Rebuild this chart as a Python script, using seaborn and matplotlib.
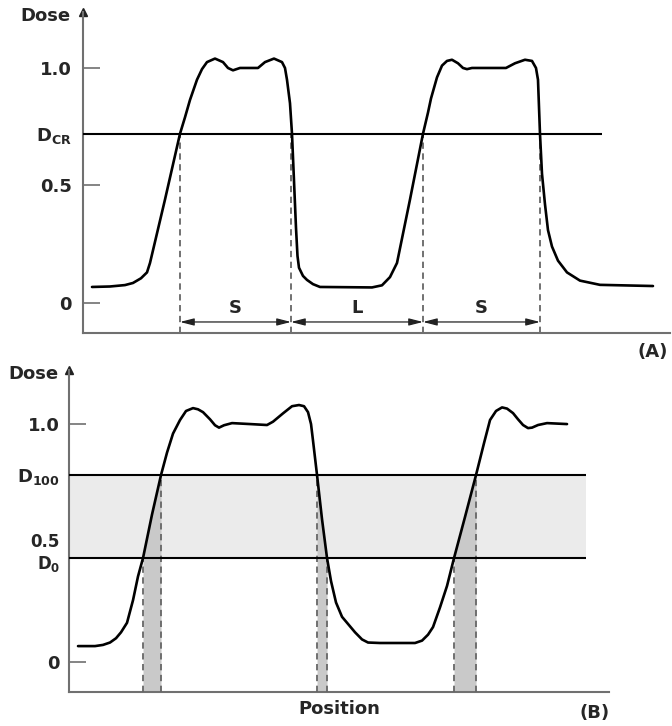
import matplotlib
matplotlib.use("Agg")
import matplotlib.pyplot as plt
import matplotlib.transforms as mtransforms
import seaborn as sns
import numpy as np

# ---- data (position in arbitrary units, dose normalised) ----
pos_a = [0.9, 2.7, 4.2, 5.0, 5.8, 6.4, 6.7, 8.2, 9.7, 10.2, 10.7, 11.4, 11.9, 12.4, 13.2,
         14.0, 14.5, 15.0, 15.7, 17.5, 18.2, 19.1, 19.9, 20.2, 20.4, 20.7, 20.9,
         21.1, 21.3, 21.45, 21.6, 22.0, 22.4, 23.0, 23.7, 28.9, 29.9, 30.7, 31.4,
         32.7, 34.0, 34.5, 34.8, 35.4, 35.9, 36.4, 36.9, 37.5, 38.0, 38.4, 38.9, 42.3,
         43.2, 44.2, 44.9, 45.3, 45.5, 45.7, 45.9, 46.2, 46.5, 46.9, 47.5, 48.4,
         49.7, 51.7, 57.0]
dose_a = [0.068, 0.07, 0.076, 0.085, 0.105, 0.13, 0.17, 0.44, 0.72, 0.79, 0.864, 0.95,
          0.995, 1.025, 1.04, 1.025, 1.0, 0.99, 1.0, 1.0, 1.025, 1.04, 1.025, 1.0, 0.95,
          0.85, 0.72, 0.52, 0.32, 0.2, 0.15, 0.115, 0.098, 0.08, 0.068, 0.066, 0.075,
          0.11, 0.17, 0.44, 0.72, 0.81, 0.87, 0.96, 1.01, 1.03, 1.035, 1.02, 1.0, 0.995,
          1.0, 1.0, 1.02, 1.035, 1.03, 1.0, 0.95, 0.72, 0.55, 0.42, 0.31, 0.24, 0.18,
          0.13, 0.095, 0.077, 0.072]
d_cr = 0.72
cross_a = [9.7, 20.8, 34.0, 45.7]
span_labels = ["S", "L", "S"]

pos_b = [0.9, 2.6, 3.4, 4.1, 4.7, 5.2, 5.8, 6.4, 6.9, 7.4, 8.3, 9.2, 9.8, 10.4, 11.1,
         11.7, 12.4, 12.9, 13.4, 14.1, 14.6, 15.0, 15.5, 16.3, 18.1, 19.8, 20.4, 21.4,
         22.3, 23.0, 23.5, 23.9, 24.2, 24.4, 24.8, 25.3, 25.8, 26.2, 26.7, 27.3, 27.9,
         28.6, 29.3, 29.9, 31.1, 34.6, 35.3, 35.9, 36.4, 37.1, 37.8, 38.5, 39.6, 40.7,
         41.5, 42.1, 42.7, 43.3, 43.8, 44.4, 44.9, 45.4, 45.9, 46.3, 46.9, 47.8, 49.8]
dose_b = [0.067, 0.067, 0.072, 0.082, 0.1, 0.125, 0.165, 0.26, 0.36, 0.437, 0.62, 0.786,
          0.88, 0.96, 1.017, 1.055, 1.067, 1.062, 1.05, 1.02, 0.995, 0.985, 0.995, 1.004,
          1.0, 0.996, 1.01, 1.045, 1.075, 1.08, 1.075, 1.05, 1.0, 0.93, 0.786, 0.6,
          0.437, 0.34, 0.25, 0.19, 0.16, 0.125, 0.095, 0.082, 0.08, 0.08, 0.09, 0.115,
          0.147, 0.23, 0.32, 0.437, 0.61, 0.786, 0.92, 1.017, 1.055, 1.07, 1.065, 1.046,
          1.02, 0.996, 0.983, 0.985, 0.996, 1.004, 1.0]
d_100 = 0.786
d_0 = 0.437
# (x at D0, x at D100) for each edge
edges_b = [(7.4, 9.2), (25.8, 24.8), (38.5, 40.7)]

sns.set_theme(style="white")
plt.rcParams["font.family"] = ["DejaVu Sans"]
plt.rcParams["font.weight"] = "bold"
plt.rcParams["mathtext.fontset"] = "dejavusans"

AX_GRAY = "#707070"
DASH_GRAY = "#666666"
FS = 13

fig = plt.figure(figsize=(6.72, 7.26), dpi=100)
ax_a = fig.add_axes([0.1235, 0.5413, 0.8735, 0.4421])
ax_b = fig.add_axes([0.1027, 0.0468, 0.8036, 0.4435])


def style_axis(ax, ticks, labels, hidden, pad):
    sns.despine(ax=ax)
    for side in ["left", "bottom"]:
        ax.spines[side].set_color(AX_GRAY)
        ax.spines[side].set_linewidth(1.5)
    ax.set_xticks([])
    ax.set_yticks(ticks)
    ax.set_yticklabels(labels)
    ax.tick_params(axis="y", direction="in", length=12, width=1.2, color=AX_GRAY,
                   pad=pad, labelsize=FS, left=True)
    for lab in ax.get_yticklabels():
        lab.set_fontweight("bold")
    for i, t in enumerate(ax.yaxis.get_major_ticks()):
        if i in hidden:
            t.tick1line.set_visible(False)
    # arrow head on top of the dose axis
    ax.plot([0], [1], marker="^", color="#222222", ms=6, transform=ax.transAxes,
            clip_on=False)
    ax.annotate("Dose", xy=(0, 1), xycoords="axes fraction", xytext=(-pad - 1, -3),
                textcoords="offset points", ha="right", va="center",
                fontsize=FS, fontweight="bold")


# ---------------- panel A ----------------
ax_a.set_xlim(0, 58.7)
ax_a.set_ylim(-0.128, 1.238)
ax_a.hlines(d_cr, 0, 51.9, color="black", lw=1.5, zorder=3)
ax_a.vlines(cross_a, -0.128, d_cr, color=DASH_GRAY, lw=1.3, linestyles=(0, (3.5, 2.5)))
sns.lineplot(x=pos_a, y=dose_a, ax=ax_a, color="black", lw=1.9, sort=False,
             zorder=4)
for i, lab in enumerate(span_labels):
    x1, x2 = cross_a[i], cross_a[i + 1]
    ax_a.annotate("", xy=(x2, -0.081), xytext=(x1, -0.081),
                  arrowprops=dict(arrowstyle="<|-|>,head_length=0.7,head_width=0.18",
                                  color="#222222", lw=0.9, shrinkA=0, shrinkB=0))
    ax_a.text((x1 + x2) / 2, -0.022, lab, ha="center", va="center", fontsize=FS,
              fontweight="bold")
style_axis(ax_a, [0, 0.5, d_cr, 1.0],
           ["0", "0.5", r"$\mathbf{D}_{\mathbf{CR}}$", "1.0"], hidden=[2], pad=8)

# ---------------- panel B ----------------
ax_b.set_xlim(0, 54.0)
ax_b.set_ylim(-0.126, 1.227)
ax_b.fill_between([0, 51.7], d_0, d_100, color="#ebebeb", lw=0, zorder=1)
x_b = np.array(pos_b)
y_b = np.array(dose_b)
for xa, xb in edges_b:
    lo, hi = min(xa, xb), max(xa, xb)
    m = (x_b >= lo - 1e-9) & (x_b <= hi + 1e-9)
    ax_b.fill_between(x_b[m], -0.126, y_b[m], color="#c9c9c9", lw=0, zorder=2)
    ax_b.vlines([xa], -0.126, d_0, color=DASH_GRAY, lw=1.3,
                linestyles=(0, (3.5, 2.5)), zorder=3)
    ax_b.vlines([xb], -0.126, d_100, color=DASH_GRAY, lw=1.3,
                linestyles=(0, (3.5, 2.5)), zorder=3)
ax_b.hlines([d_100, d_0], 0, 51.7, color="black", lw=1.5, zorder=3)
sns.lineplot(x=pos_b, y=dose_b, ax=ax_b, color="black", lw=1.9, sort=False,
             zorder=4)
style_axis(ax_b, [0, d_0, 0.5, d_100, 1.0],
           ["0", r"$\mathbf{D}_{\mathrm{0}}$", "0.5", r"$\mathbf{D}_{\mathrm{100}}$", "1.0"],
           hidden=[1, 3], pad=6.5)
# 0.5 and D0 sit very close together: nudge them apart a little
labs_b = ax_b.get_yticklabels()
for idx, dy in [(1, -2.5), (2, 2.0)]:
    labs_b[idx].set_fontsize(12)
    labs_b[idx].set_transform(labs_b[idx].get_transform() +
                              mtransforms.ScaledTranslation(0, dy / 72, fig.dpi_scale_trans))
ax_b.set_xlabel("Position", fontsize=FS, fontweight="bold", labelpad=6)
ax_b.set_ylabel("")
ax_a.set_ylabel("")

fig.text(653 / 672, 1 - 352 / 726, "(A)", ha="center", va="center", fontsize=FS,
         fontweight="bold")
fig.text(595 / 672, 1 - 713 / 726, "(B)", ha="center", va="center", fontsize=FS,
         fontweight="bold")

fig.savefig("out.png", dpi=100)
